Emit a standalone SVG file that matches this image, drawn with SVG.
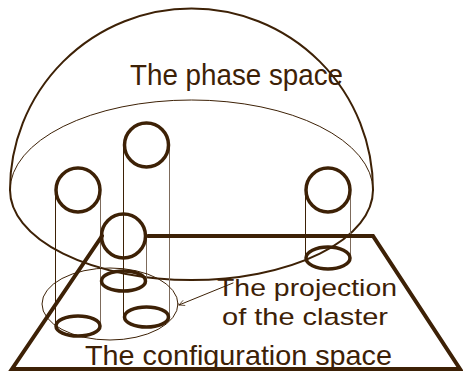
<svg xmlns="http://www.w3.org/2000/svg" width="463" height="372" viewBox="0 0 463 372">
<defs>
<style>
.ln{fill:none;stroke:#3d2106;stroke-linecap:round}
.thin{stroke-width:1}
.light{fill:none;stroke:#7d6b5c;stroke-width:1}
.ring{fill:none;stroke:#3d2106;stroke-width:3.5}
.txt{font-family:"Liberation Sans",Arial,sans-serif;fill:#3d2106}
</style>
<marker id="ah" viewBox="0 0 10 10" refX="9" refY="5" markerWidth="7" markerHeight="7" orient="auto" markerUnits="userSpaceOnUse">
<path d="M1,1 L9,5 L1,9" fill="none" stroke="#3d2106" stroke-width="1"/>
</marker>
</defs>
<rect width="463" height="372" fill="#fff"/>
<g id="phase-space">
<path class="ln" stroke-width="2" d="M10,190 A181.5,181.5 0 0 1 373,190"/>
<path class="ln thin" d="M10,190 A181.5,90 0 0 1 373,190"/>
<path class="ln" stroke-width="2" d="M10,190 A181.5,90 0 0 0 373,190"/>
<text class="txt" x="130" y="85" font-size="29" textLength="213" lengthAdjust="spacingAndGlyphs">The phase space</text>
</g>
<g id="connectors">
<line class="ln thin" x1="55.5" y1="190" x2="55.5" y2="326"/>
<line class="light" x1="100.5" y1="190" x2="100.5" y2="326"/>
<line class="ln thin" x1="123.5" y1="145" x2="123.5" y2="317"/>
<line class="light" x1="169.5" y1="145" x2="169.5" y2="317"/>
<line class="ln thin" x1="305.5" y1="190" x2="305.5" y2="258"/>
<line class="light" x1="350.5" y1="190" x2="350.5" y2="258"/>
<line class="light" x1="146.5" y1="236" x2="146.5" y2="281"/>
<path class="ln thin" d="M233,283 L179,305" marker-end="url(#ah)"/>
</g>
<g id="configuration-space">
<path class="ln" stroke-width="4" stroke-linejoin="miter" stroke-linecap="butt" d="M148,236 L373,236 L460,369 L12,369 L102,236"/>
<text class="txt" x="85" y="365" font-size="28" textLength="307" lengthAdjust="spacingAndGlyphs">The configuration space</text>
</g>
<g id="cluster">
<ellipse class="ln thin" cx="110" cy="304" rx="68" ry="36"/>
<text class="txt" x="217" y="296" font-size="24.5" textLength="180" lengthAdjust="spacingAndGlyphs">The projection</text>
<text class="txt" x="222" y="325" font-size="24.5" textLength="166" lengthAdjust="spacingAndGlyphs">of the claster</text>
</g>
<g id="point-a">
<circle class="ring" cx="146.5" cy="145" r="22"/>
<ellipse class="ring" cx="146.5" cy="317" rx="22" ry="10"/>
</g>
<g id="point-b">
<circle class="ring" cx="78" cy="190" r="22"/>
<ellipse class="ring" cx="78" cy="326" rx="22" ry="10"/>
</g>
<g id="point-c">
<circle class="ring" cx="328" cy="190" r="22"/>
<ellipse class="ring" cx="328" cy="258" rx="22" ry="11"/>
</g>
<g id="point-d">
<circle class="ring" cx="123.5" cy="236" r="22"/>
<ellipse class="ring" cx="123.5" cy="281" rx="22" ry="10"/>
</g>
</svg>
